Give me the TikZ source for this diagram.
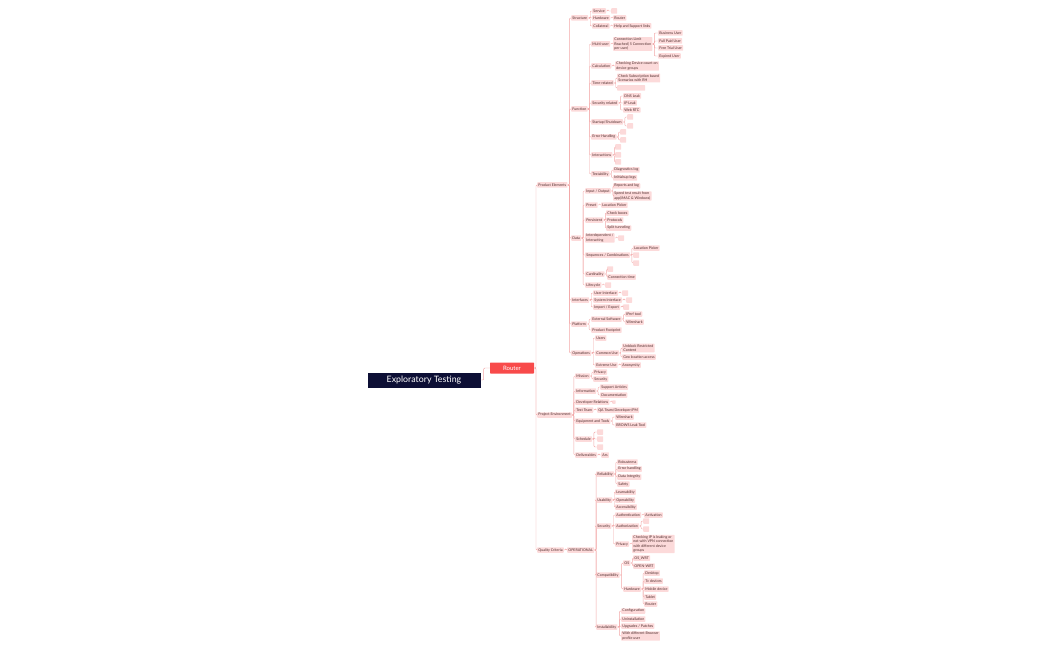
\documentclass[tikz,border=0pt]{standalone}
\usepackage{fontspec}
\setmainfont{Lato}
\definecolor{navy}{HTML}{0D0F35}
\definecolor{hubred}{HTML}{F84A4A}
\definecolor{pinkbg}{HTML}{FCDADA}
\definecolor{pinkln}{HTML}{F2A7A7}
\definecolor{ink}{HTML}{4E2C2C}
\tikzset{
  topic/.style={fill=pinkbg, text=ink, font=\fontsize{3.6}{4.3}\selectfont,
    inner xsep=1.2pt, inner ysep=0.9pt, minimum height=5.5pt,
    rounded corners=0.6pt, align=left, anchor=west},
  blank/.style={topic, minimum width=6pt, inner sep=0pt},
  link/.style={draw=pinkln, line width=0.45pt, rounded corners=1pt},
  rootbox/.style={fill=navy, text=white, font=\fontsize{8.8}{10}\selectfont,
    minimum width=113pt, minimum height=15pt, inner sep=0pt},
  hubbox/.style={fill=hubred, text=white, font=\fontsize{6}{7}\selectfont,
    minimum width=44pt, minimum height=11pt, inner sep=0pt, rounded corners=0.6pt}
}
% node + link to its parent
\newcommand\twig[6][topic]{%
  \node[#1] (#2) at (#4,#5) {#6};
  \draw[link] (#3.east) -- ++(1.8,0) |- (#2.west);}
\begin{document}
\begin{tikzpicture}[x=1pt,y=-1pt]
\useasboundingbox (0,0) rectangle (1050,650);
% root and hub
\node[rootbox] (et) at (424,380) {Exploratory Testing};
\node[hubbox] (router) at (512,368) {Router};
\draw[link] (et.east) -- ++(3,0) |- (router.west);
% main branches
\twig{pe}{router}{537}{185}{Product Elements}
\twig{pen}{router}{537}{415}{Project Environment}
\twig{qc}{router}{537}{550}{Quality Criteria}
% product elements
\twig{st}{pe}{571}{18}{Structure}
\twig{fu}{pe}{571}{109}{Function}
\twig{da}{pe}{571}{238}{Data}
\twig{itf}{pe}{571}{300}{Interfaces}
\twig{pl}{pe}{571}{324}{Platform}
\twig{op}{pe}{571}{353}{Operations}
% structure
\twig{se}{st}{592}{11}{Service}
\twig{hw}{st}{592}{18}{Hardware}
\twig{co}{st}{592}{26}{Collateral}
\twig[blank]{seb}{se}{611}{11}{}
\twig{hwr}{hw}{613}{18}{Router}
\twig{coh}{co}{613}{26}{Help and Support links}
% function
\twig{mu}{fu}{591}{44}{Multi-user}
\twig{ca}{fu}{591}{66}{Calculation}
\twig{ti}{fu}{591}{83}{Time-related}
\twig{sr}{fu}{591}{103}{Security related}
\twig{ss}{fu}{591}{122}{Startup/Shutdown}
\twig{eh}{fu}{591}{137}{Error Handling}
\twig{ia}{fu}{591}{155}{Interactions}
\twig{te}{fu}{591}{174}{Testability}
\twig{cl}{mu}{613}{44}{Connection Limit\\Reached( 5 Connection\\per user)}
\twig{bu}{cl}{658}{33}{Business User}
\twig{fp}{cl}{658}{41}{Full Paid User}
\twig{ft}{cl}{658}{48}{Free Trial User}
\twig{ex}{cl}{658}{56}{Expired User}
\twig{cad}{ca}{615}{66}{Checking Device count on\\device groups}
\twig{tis}{ti}{617}{78}{Check Subscription based\\Scenarios with RH}
\twig[blank, minimum width=28pt]{tib}{ti}{617}{88}{}
\twig{dns}{sr}{623}{96}{DNS Leak}
\twig{ipl}{sr}{623}{103}{IP Leak}
\twig{rtc}{sr}{623}{110}{Web RTC}
\twig[blank]{ssa}{ss}{627}{117}{}
\twig[blank]{ssb}{ss}{627}{126}{}
\twig[blank]{eha}{eh}{620}{132}{}
\twig[blank]{ehb}{eh}{620}{140}{}
\twig[blank]{iaa}{ia}{615}{147}{}
\twig[blank]{iab}{ia}{615}{155}{}
\twig[blank]{iac}{ia}{615}{162}{}
\twig{tdl}{te}{613}{170}{Diagnostics log}
\twig{til}{te}{613}{178}{Initialsup logs}
% data
\twig{io}{da}{585}{191}{Input / Output}
\twig{pr}{da}{585}{205}{Preset}
\twig{ps}{da}{585}{220}{Persistent}
\twig{idp}{da}{585}{238}{Interdependent /\\Interacting}
\twig{sq}{da}{585}{255}{Sequences / Combinations}
\twig{cd}{da}{585}{274}{Cardinality}
\twig{lc}{da}{585}{285}{Lifecycle}
\twig{iol}{io}{613}{186}{Reports and log}
\twig{ios}{io}{613}{196}{Speed test result from\\app(iMAC \& Windows)}
\twig{prl}{pr}{601}{205}{Location Picker}
\twig{psc}{ps}{606}{213}{Check boxes}
\twig{psp}{ps}{606}{220}{Protocols}
\twig{pst}{ps}{606}{228}{Split tunneling}
\twig[blank]{idb}{idp}{618}{238}{}
\twig{sql}{sq}{633}{248}{Location Picker}
\twig[blank]{sqa}{sq}{633}{255}{}
\twig[blank]{sqb}{sq}{633}{263}{}
\twig[blank]{cdb}{cd}{607}{269}{}
\twig{cdt}{cd}{607}{277}{Connection time}
\twig[blank]{lcb}{lc}{605}{285}{}
% interfaces
\twig{ui}{itf}{593}{293}{User Interface}
\twig{si}{itf}{593}{300}{System Interface}
\twig{ie}{itf}{593}{307}{Import / Export}
\twig[blank]{uib}{ui}{622}{293}{}
\twig[blank]{sib}{si}{626}{300}{}
\twig[blank]{ieb}{ie}{623}{307}{}
% platform
\twig{es}{pl}{591}{319}{External Software}
\twig{pf}{pl}{591}{330}{Product Footprint}
\twig{esi}{es}{625}{314}{IPerf tool}
\twig{esw}{es}{625}{322}{Wireshark}
% operations
\twig{us}{op}{595}{338}{Users}
\twig{cu}{op}{595}{353}{Common Use}
\twig{eu}{op}{595}{365}{Extreme Use}
\twig{cuu}{cu}{622}{348}{Unblock Restricted\\Content}
\twig{cug}{cu}{622}{357}{Geo location access}
\twig{eua}{eu}{621}{365}{Anonymity}
% project environment
\twig{mi}{pen}{575}{376}{Mission}
\twig{inf}{pen}{575}{391}{Information}
\twig{dr}{pen}{575}{402}{Developer Relations}
\twig{tt}{pen}{575}{410}{Test Team}
\twig{eq}{pen}{575}{421}{Equipment and Tools}
\twig{sc}{pen}{575}{439}{Schedule}
\twig{de}{pen}{575}{455}{Deliverables}
\twig{mip}{mi}{593}{372}{Privacy}
\twig{mis}{mi}{593}{379}{Security}
\twig{ina}{inf}{600}{387}{Support Articles}
\twig{ind}{inf}{600}{395}{Documentation}
\twig[blank, minimum width=3.5pt, minimum height=3.5pt]{drb}{dr}{612}{402}{}
\twig{ttq}{tt}{597}{410}{QA Team/Developer/PM}
\twig{eqw}{eq}{615}{417}{Wireshark}
\twig{eql}{eq}{615}{425}{BROWS Leak Tool}
\twig[blank]{sca}{sc}{597}{432}{}
\twig[blank]{scb}{sc}{597}{439}{}
\twig[blank]{scc}{sc}{597}{447}{}
\twig{dea}{de}{601}{455}{Ars}
% quality criteria
\twig{opq}{qc}{567}{550}{OPERATIONAL}
\twig{re}{opq}{596}{474}{Reliability}
\twig{ua}{opq}{596}{500}{Usability}
\twig{sy}{opq}{596}{526}{Security}
\twig{cp}{opq}{596}{575}{Compatibility}
\twig{il}{opq}{596}{627}{Installability}
\twig{rer}{re}{617}{462}{Robustness}
\twig{ree}{re}{617}{469}{Error handling}
\twig{red}{re}{617}{477}{Data Integrity}
\twig{res}{re}{617}{484}{Safety}
\twig{ual}{ua}{615}{492}{Learnability}
\twig{uao}{ua}{615}{500}{Operability}
\twig{uaa}{ua}{615}{507}{Accessibility}
\twig{syn}{sy}{615}{515}{Authentication}
\twig{syz}{sy}{615}{526}{Authorization}
\twig{syp}{sy}{615}{544}{Privacy}
\twig{act}{syn}{644}{515}{Activation}
\twig[blank]{sza}{syz}{643}{521}{}
\twig[blank]{szb}{syz}{643}{529}{}
\twig{spv}{syp}{632}{544}{Checking IP is leaking or\\not with VPN connection\\with different device\\groups}
\twig{os}{cp}{623}{563}{OS}
\twig{hd}{cp}{623}{589}{Hardware}
\twig{osw}{os}{633}{558}{OS\_WRT}
\twig{oso}{os}{633}{566}{OPEN-WRT}
\twig{hdd}{hd}{644}{573}{Desktop}
\twig{hdt}{hd}{644}{581}{Tv devices}
\twig{hdm}{hd}{644}{589}{Mobile device}
\twig{hdb}{hd}{644}{597}{Tablet}
\twig{hdr}{hd}{644}{604}{Router}
\twig{ilc}{il}{621}{611}{Configuration}
\twig{ilu}{il}{621}{619}{Uninstallation}
\twig{ilp}{il}{621}{626}{Upgrades / Patches}
\twig{ilb}{il}{621}{636}{With different Browser\\profile user}
\end{tikzpicture}
\end{document}
